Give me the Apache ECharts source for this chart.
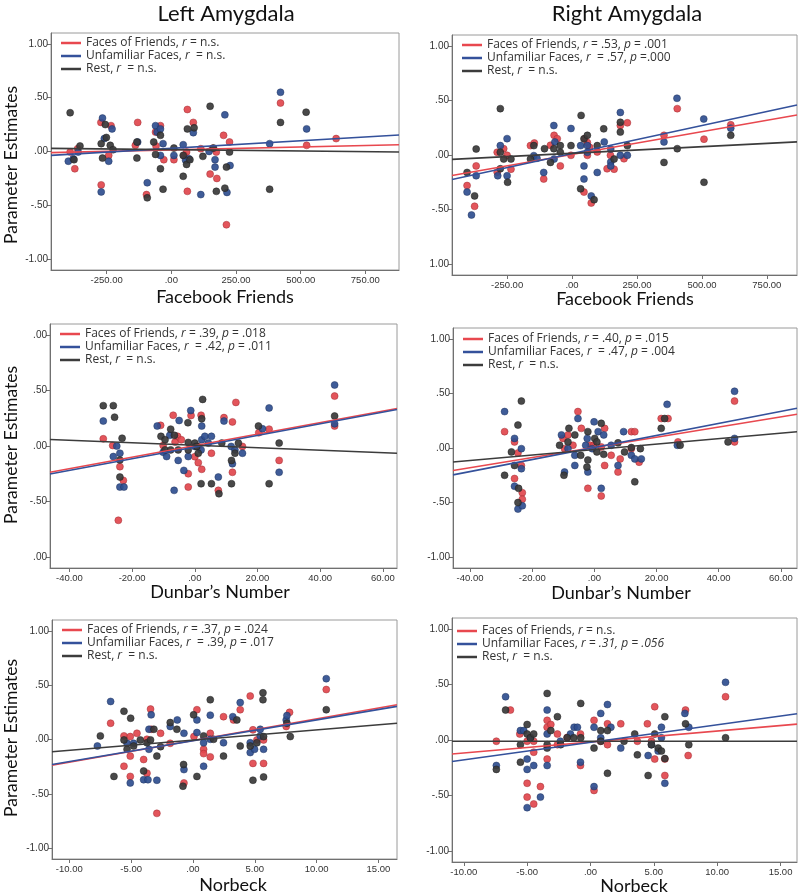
<!DOCTYPE html>
<html><head><meta charset="utf-8">
<script src="https://cdn.jsdelivr.net/npm/echarts@6/dist/echarts.min.js"></script>
<style>html,body{margin:0;padding:0;background:#fff}#c{width:800px;height:895px}</style>
</head><body><div id="c"></div><script>
// ---------- DATA ----------
// Panel 1: Left Amygdala vs Facebook Friends
const p1Friends = [[-391,-0.005],[-362,0.026],[-373,-0.16],[-272,0.27],[-271,-0.31],[-233,0.24],[-242,-0.036],[-130,0.27],[-139,0.057],[-96,-0.40],[-61,0.18],[-59,0.051],[-42,0.24],[-29,-0.076],[10,-0.076],[62,0.39],[59,-0.005],[62,-0.37],[85,0.27],[49,-0.036],[114,0.026],[150,-0.21],[176,-0.25],[174,-0.005],[202,0.15],[225,0.088],[213,-0.68],[422,0.45],[523,0.057],[637,0.12],[160,0.03]];
const p1Unfamiliar = [[-398,-0.09],[-379,-0.067],[-360,-0.005],[-266,0.31],[-259,0.12],[-229,0.21],[-242,-0.09],[-271,-0.375],[-130,0.088],[-93,-0.29],[-61,0.24],[-55,0.18],[-42,0.21],[-42,-0.036],[-32,0.073],[10,-0.036],[46,0.063],[68,-0.067],[85,0.175],[114,-0.40],[146,0.001],[169,-0.076],[169,-0.145],[207,0.34],[215,-0.38],[227,-0.13],[380,0.073],[422,0.55],[523,0.21],[55,-0.08]];
const p1Rest = [[-391,0.36],[-376,-0.076],[-353,0.051],[-271,0.073],[-266,-0.061],[-255,0.25],[-251,0.13],[-236,0.057],[-225,0.017],[-133,-0.061],[-133,0.088],[-93,-0.43],[-68,0.088],[-61,-0.027],[-42,0.15],[-42,-0.16],[-32,-0.35],[10,0.032],[46,-0.23],[46,-0.036],[62,0.21],[59,-0.12],[72,-0.076],[88,0.22],[122,-0.045],[150,0.42],[163,0.032],[174,-0.37],[207,-0.34],[213,-0.145],[225,-0.005],[380,-0.35],[422,0.27],[521,0.365]];
// Panel 2: Right Amygdala vs Facebook Friends
const p2Friends = [[-404,-0.28],[-369,-0.10],[-375,-0.47],[-288,0.025],[-288,-0.157],[-263,0.058],[-250,-0.003],[-235,-0.13],[-160,0.086],[-145,0.11],[-109,-0.22],[-83,0.089],[-69,0.18],[-57,0.15],[-45,-0.10],[-4,-0.003],[46,-0.34],[49,0.15],[59,0.114],[59,-0.003],[74,-0.44],[97,0.028],[135,-0.126],[148,-0.003],[162,-0.13],[186,0.27],[200,-0.034],[213,0.295],[354,0.18],[405,0.425],[508,0.145],[611,0.277],[68,0.07]];
const p2Unfamiliar = [[-404,-0.34],[-387,-0.55],[-369,-0.19],[-286,-0.19],[-276,0.086],[-250,0.15],[-250,-0.19],[-147,-0.006],[-135,-0.03],[-109,-0.16],[-70,0.27],[-66,0.12],[-69,-0.037],[-4,0.243],[33,0.086],[46,-0.10],[46,-0.22],[59,0.086],[59,0.025],[74,-0.375],[97,-0.16],[124,0.12],[149,0.055],[149,-0.065],[149,-0.10],[186,0.39],[186,-0.003],[213,-0.003],[354,0.12],[404,0.52],[507,0.33],[611,0.246]];
const p2Rest = [[-404,-0.16],[-369,0.055],[-375,-0.375],[-276,0.425],[-276,0.025],[-276,-0.126],[-263,-0.037],[-248,-0.25],[-235,-0.037],[-160,-0.037],[-147,0.086],[-106,0.058],[-83,-0.068],[-70,0.058],[-45,0.086],[-45,0.025],[-4,0.086],[35,0.363],[33,-0.31],[46,0.148],[59,0.18],[85,-0.41],[97,0.086],[122,0.24],[162,-0.037],[186,0.30],[186,0.21],[213,0.086],[354,-0.068],[405,0.058],[508,-0.25],[611,0.18]];
// Panel 3: Left Amygdala vs Dunbar's Number
const p3Friends = [[-29.2,0.065],[-26.2,0.005],[-23.9,-0.186],[-22.8,-0.31],[-24.4,-0.67],[-10.9,0.186],[-10.1,0.005],[-6.9,0.277],[-6.3,0.035],[-5.5,0.087],[-4.3,0.056],[-2.1,-0.25],[-2.1,-0.37],[-1.2,0.275],[0,-0.096],[1.1,-0.15],[2.2,-0.21],[2.0,0.277],[5.3,-0.065],[7.5,-0.40],[9.3,0.256],[12.0,0.217],[12.0,-0.237],[13.1,0.393],[15.2,-0.004],[20.4,0.12],[23.7,0.152],[26.9,-0.13],[44.6,0.45],[44.6,0.18],[1.1,-0.005]];
const p3Unfamiliar = [[-29.2,0.225],[-26.0,-0.095],[-24.9,-0.001],[-23.9,-0.065],[-23.9,-0.37],[-22.6,-0.37],[-12.0,0.18],[-10.1,-0.056],[-9.0,-0.095],[-8.0,0.096],[-6.6,-0.40],[-5.3,-0.13],[-5.0,0.23],[-3.5,-0.22],[-2.1,-0.095],[-1.3,0.32],[0,-0.004],[2.0,-0.035],[2.2,0.18],[2.2,0.056],[3.2,0.087],[4.3,0.026],[5.3,0.087],[7.5,-0.28],[9.3,0.225],[11.6,-0.004],[12.0,-0.16],[12.8,-0.035],[15.2,-0.065],[21.6,0.155],[23.7,0.343],[26.9,-0.237],[44.6,0.55],[44.6,0.20]];
const p3Rest = [[-29.2,0.364],[-26.0,0.364],[-25.6,0.26],[-23.2,0.07],[-23.9,-0.126],[-23.9,-0.28],[-10.8,0.087],[-9.5,0.056],[-9.5,-0.035],[-7.7,0.152],[-7.7,-0.035],[-6.5,0.096],[-5.3,-0.035],[-2.2,0.21],[-2.1,0.032],[-2.1,-0.035],[0,0.026],[0.6,-0.004],[1.1,-0.065],[2.2,0.246],[2.0,-0.34],[2.5,0.42],[5.3,-0.34],[7.7,-0.43],[8.6,0.026],[11.7,-0.13],[11.7,-0.34],[12.8,-0.065],[13.9,0.026],[20.3,0.18],[23.7,-0.34],[26.9,0.026],[44.6,0.27]];
// Panel 4: Right Amygdala vs Dunbar's Number
const p4Friends = [[-28.9,0.15],[-25.7,0.056],[-25.7,-0.28],[-24.6,-0.046],[-23.5,-0.16],[-23.2,-0.41],[-23.2,-0.47],[-10.1,0.088],[-9.6,-0.006],[-8.5,0.12],[-6.9,0.025],[-5.3,0.334],[-4.2,0.18],[-2.1,-0.37],[-1.3,0.025],[-0.2,0.025],[2.2,-0.44],[2.2,0.01],[3.3,0.18],[3.3,-0.16],[5.4,-0.067],[7.6,-0.22],[8.3,-0.10],[11.9,0.15],[13.0,0.15],[14.4,-0.13],[21.5,0.27],[23.7,0.27],[26.9,0.056],[45.1,0.43],[45.1,0.056],[11.9,-0.006]];
const p4Unfamiliar = [[-28.9,0.334],[-25.7,0.088],[-25.7,-0.35],[-23.5,-0.006],[-23.5,-0.19],[-24.6,-0.56],[-23.2,-0.53],[-10.6,0.12],[-9.6,-0.22],[-8.5,-0.006],[-6.3,-0.067],[-6.3,-0.16],[-5.3,0.27],[-2.8,0.025],[-2.3,0.088],[-2.1,-0.22],[-0.7,-0.006],[-0.1,0.24],[1.2,0.15],[2.2,-0.37],[3.0,0.12],[5.4,0.025],[7.6,-0.16],[9.4,0.15],[11.9,-0.067],[13.0,-0.10],[15.1,-0.10],[23.4,0.40],[26.7,0.025],[45.1,0.52],[45.1,0.088]];
const p4Rest = [[-28.9,-0.25],[-26.7,-0.036],[-25.7,-0.16],[-24.6,0.21],[-23.5,0.43],[-24.4,-0.37],[-24.6,-0.50],[-11.2,0.025],[-9.8,-0.25],[-8.5,0.056],[-8.2,0.18],[-6.3,0.12],[-4.4,-0.067],[-2.1,0.15],[-2.1,-0.11],[-2.4,-0.175],[0.1,0.088],[0.8,-0.036],[0.8,0.056],[2.2,0.226],[3.0,-0.058],[7.6,0.047],[9.7,-0.036],[11.9,0.004],[13.0,-0.31],[14.8,-0.006],[21.5,0.18],[22.6,0.27],[27.6,0.025],[43.0,0.056]];
// Panel 5: Left Amygdala vs Norbeck
const p5Friends = [[-6.66,0.15],[-5.58,0.033],[-5.58,-0.246],[-5.07,0.027],[-5.07,-0.153],[-5.07,-0.34],[-4.53,0.057],[-3.99,-0.184],[-3.72,-0.31],[-3.72,0.002],[-3.43,0.28],[-3.38,0.094],[-2.62,0.057],[-2.92,-0.68],[-1.84,-0.035],[-0.73,-0.40],[0.08,0.027],[0.32,0.274],[0.86,-0.09],[0.86,-0.13],[1.40,0.057],[1.40,-0.16],[2.47,0.21],[3.28,0.18],[3.82,0.274],[4.63,0.40],[4.85,0.089],[4.85,-0.22],[5.17,-0.004],[5.71,-0.22],[5.71,-0.004],[7.54,0.12],[7.81,0.25],[10.78,0.46]];
const p5Unfamiliar = [[-7.73,-0.06],[-6.66,0.35],[-5.33,-0.035],[-5.07,-0.40],[-4.80,-0.035],[-3.99,-0.37],[-3.64,-0.37],[-3.56,0.094],[-3.38,0.227],[-3.56,-0.09],[-2.92,-0.375],[-1.84,0.12],[-1.27,0.18],[-0.73,0.057],[-0.73,-0.277],[0.32,0.18],[0.32,0.064],[0.86,-0.03],[0.86,-0.246],[1.40,0.224],[1.40,0.002],[2.47,-0.03],[3.22,0.21],[3.82,0.34],[4.63,-0.03],[4.63,-0.12],[4.98,-0.09],[5.44,0.094],[5.44,0.033],[5.71,-0.09],[7.54,0.18],[7.6,0.22],[10.78,0.56]];
const p5Rest = [[-7.49,0.033],[-6.39,-0.34],[-5.58,0.26],[-5.58,-0.004],[-5.33,-0.09],[-5.04,0.196],[-4.80,-0.06],[-4.26,-0.004],[-3.99,-0.29],[-3.72,-0.03],[-3.43,-0.004],[-3.16,0.094],[-2.92,-0.153],[-2.62,-0.066],[-1.84,0.156],[-1.30,0.094],[-0.76,-0.23],[-0.81,-0.43],[0.05,0.227],[0.32,-0.34],[0.86,0.033],[1.40,0.366],[1.67,0.002],[2.47,-0.153],[3.55,0.18],[3.82,-0.06],[4.63,-0.06],[4.85,-0.375],[5.17,-0.03],[5.66,0.43],[5.66,0.366],[5.71,0.027],[5.71,-0.345],[7.6,0.15],[7.87,0.027],[10.78,0.274]];
// Panel 6: Right Amygdala vs Norbeck
const p6Friends = [[-7.43,-0.011],[-6.32,0.27],[-5.58,0.054],[-5.00,-0.011],[-5.00,-0.39],[-5.00,-0.515],[-4.48,-0.011],[-4.48,-0.11],[-4.48,-0.577],[-3.95,-0.42],[-3.42,0.177],[-3.42,0.115],[-3.42,-0.172],[-3.13,0.14],[-2.61,0.054],[-2.61,-0.042],[-1.84,0.023],[-0.79,0.054],[-0.79,-0.23],[0.28,0.177],[0.28,-0.455],[0.81,-0.011],[1.34,0.146],[1.34,-0.042],[2.39,0.146],[3.70,-0.011],[4.49,0.146],[4.81,-0.011],[5.07,0.30],[5.07,-0.172],[5.87,-0.32],[5.87,-0.172],[7.50,0.27],[7.71,-0.14],[10.66,0.39]];
const p6Unfamiliar = [[-7.43,-0.23],[-6.70,0.39],[-5.53,0.085],[-5.27,0.085],[-5.00,-0.172],[-5.00,-0.265],[-5.00,-0.61],[-4.74,0.02],[-4.48,-0.23],[-3.95,-0.515],[-3.42,0.27],[-3.42,0.054],[-3.42,-0.23],[-2.38,-0.011],[-1.58,0.054],[-1.29,0.115],[-1.03,0.115],[-0.79,-0.20],[0.28,0.115],[0.28,-0.42],[0.81,0.24],[0.81,0.02],[1.34,0.32],[1.61,0.115],[2.39,-0.073],[4.55,-0.14],[4.81,-0.042],[5.34,-0.10],[5.60,0.115],[5.60,0.02],[5.87,-0.39],[7.45,0.24],[7.76,0.115],[10.66,0.52]];
const p6Rest = [[-7.43,-0.265],[-6.70,0.27],[-5.53,-0.20],[-5.53,-0.042],[-5.00,0.14],[-5.00,0.054],[-4.74,0.02],[-4.48,0.054],[-3.42,0.42],[-3.42,-0.073],[-3.42,-0.042],[-3.13,0.085],[-2.61,0.21],[-2.35,-0.042],[-1.84,0.02],[-1.32,0.02],[-0.77,0.33],[-0.77,0.02],[0.28,-0.073],[0.81,0.085],[0.81,-0.011],[1.34,0.085],[1.34,-0.30],[2.65,-0.011],[3.49,0.054],[3.70,-0.134],[4.55,-0.32],[4.81,-0.042],[5.07,0.054],[5.34,-0.073],[5.60,-0.10],[5.87,0.21],[5.87,-0.167],[7.50,0.146],[7.76,-0.042],[10.66,0.02]];

// regression fits: [intercept, slope] for Friends, Unfamiliar, Rest
const fitP1 = [[0.0152, 5.43e-5], [0.0293, 1.405e-4], [0.0172, -2.53e-5]];
const fitP2 = [[0.0048, 4.17e-4], [0.0126, 5.14e-4], [0.0157, 1.205e-4]];
const fitP3 = [[0.003, 0.005194], [-0.0095, 0.005248], [0.0073, -0.00112]];
const fitP4 = [[0.0057, 0.004652], [0.005, 0.00552], [-0.0147, 0.002511]];
const fitP5 = [[-0.0094, 0.01996], [-0.0114, 0.01918], [-0.0055, 0.00943]];
const fitP6 = [[-0.018, 0.00989], [-0.0213, 0.0158], [-0.011, 0]];

// legend labels
const legendP1 = ['Faces of Friends, r = n.s.', 'Unfamiliar Faces, r  = n.s.', 'Rest, r  = n.s.'];
const legendP2 = ['Faces of Friends, r = .53, p = .001', 'Unfamiliar Faces, r  = .57, p =.000', 'Rest, r  = n.s.'];
const legendP3 = ['Faces of Friends, r = .39, p = .018', 'Unfamiliar Faces, r  = .42, p = .011', 'Rest, r  = n.s.'];
const legendP4 = ['Faces of Friends, r = .40, p = .015', 'Unfamiliar Faces, r  = .47, p = .004', 'Rest, r  = n.s.'];
const legendP5 = ['Faces of Friends, r = .37, p = .024', 'Unfamiliar Faces, r  = .39, p = .017', 'Rest, r  = n.s.'];
const legendP6 = ['Faces of Friends, r = n.s.', 'Unfamiliar Faces, r = .31, p = .056', 'Rest, r  = n.s.'];

// tick values / labels
const yTickValues = [-1, -0.5, 0, 0.5, 1];
const yTickLabelsStd = ['-1.00', '-.50', '.00', '.50', '1.00'];
const yTickLabelsP2 = ['1.00', '-.50', '.00', '.50', '1.00'];
const yTickLabelsP3 = ['.00', '-.50', '.00', '.50', '.00'];
const xTicksFacebook = [-250, 0, 250, 500, 750];
const xTicksDunbar = [-40, -20, 0, 20, 40, 60];
const xTicksNorbeck = [-10, -5, 0, 5, 10, 15];

const columnTitles = ['Left Amygdala', 'Right Amygdala'];
const xAxisTitles = ['Facebook Friends', 'Dunbar\u2019s Number', 'Norbeck'];
const yAxisTitle = 'Parameter Estimates';

// ---------- LAYOUT ----------
const panels = [
  {grid:{left:51, top:33, width:348, height:237}, xr:[-465, 880], xt:xTicksFacebook, yl:yTickLabelsStd, d:[p1Friends,p1Unfamiliar,p1Rest], fit:fitP1, lg:legendP1, lgPos:[61, 36.5]},
  {grid:{left:452, top:35, width:345, height:240}, xr:[-462, 866], xt:xTicksFacebook, yl:yTickLabelsP2, d:[p2Friends,p2Unfamiliar,p2Rest], fit:fitP2, lg:legendP2, lgPos:[462, 38.5]},
  {grid:{left:50, top:324, width:347, height:244}, xr:[-46.2, 64.5], xt:xTicksDunbar, yl:yTickLabelsP3, d:[p3Friends,p3Unfamiliar,p3Rest], fit:fitP3, lg:legendP3, lgPos:[60, 327.5]},
  {grid:{left:453, top:328, width:344, height:240}, xr:[-45.5, 65.2], xt:xTicksDunbar, yl:yTickLabelsStd, d:[p4Friends,p4Unfamiliar,p4Rest], fit:fitP4, lg:legendP4, lgPos:[463, 332.5]},
  {grid:{left:52, top:620, width:345, height:239}, xr:[-11.4, 16.5], xt:xTicksNorbeck, yl:yTickLabelsStd, d:[p5Friends,p5Unfamiliar,p5Rest], fit:fitP5, lg:legendP5, lgPos:[62, 623.5]},
  {grid:{left:452, top:618, width:345, height:244}, xr:[-10.93, 16.3], xt:xTicksNorbeck, yl:yTickLabelsStd, d:[p6Friends,p6Unfamiliar,p6Rest], fit:fitP6, lg:legendP6, lgPos:[457, 624.5]}
];
const ptColors = ['#e1474d', '#2f4e8f', '#3a3a3a'];
const ptBorders = ['#9e2a2f', '#1c2f5c', '#1a1a1a'];
const lineColors = ['#e8484f', '#34519b', '#3c3c3c'];
const FONT = 'Lato';
const LEGFONT = 'Open Sans';
const TICKFONT = 'Liberation Sans';

function numFmt(v) {
  let s = Math.abs(v).toFixed(2);
  if (s.charAt(0) === '0') s = s.slice(1);
  return (v < 0 ? '-' : '') + s;
}
function legendFmt(name) {
  if (name.indexOf('.056') >= 0) return name.replace(/r = .*$/, m => '{i|' + m + '}');
  return name.replace(' r ', ' {i|r} ').replace(' p ', ' {i|p} ');
}

const grids = [], xAxes = [], yAxes = [], series = [], legends = [];
panels.forEach((p, i) => {
  grids.push(Object.assign({show:true, borderColor:'#9a9a9a', borderWidth:1, backgroundColor:'transparent', containLabel:false}, p.grid));
  xAxes.push({type:'value', gridIndex:i, min:p.xr[0], max:p.xr[1],
    axisLine:{show:true, onZero:false, lineStyle:{color:'#707070', width:1}},
    axisTick:{show:true, customValues:p.xt, length:4, lineStyle:{color:'#707070'}},
    axisLabel:{customValues:p.xt, formatter:numFmt, fontSize:9.5, color:'#333', fontFamily:TICKFONT, margin:5},
    splitLine:{show:false}});
  const labels = p.yl;
  yAxes.push({type:'value', gridIndex:i, min:-1.1, max:1.1,
    axisLine:{show:true, onZero:false, lineStyle:{color:'#707070', width:1}},
    axisTick:{show:true, customValues:yTickValues, length:4, lineStyle:{color:'#707070'}},
    axisLabel:{customValues:yTickValues, formatter:v => labels[Math.round(v*2)+2], fontSize:10, color:'#333', fontFamily:TICKFONT, margin:3},
    splitLine:{show:false}});
  for (let k = 0; k < 3; k++) {
    series.push({type:'scatter', name:'pts'+i+'_'+k, xAxisIndex:i, yAxisIndex:i, data:p.d[k], symbolSize:7, z:3,
      itemStyle:{color:ptColors[k], borderColor:ptBorders[k], borderWidth:0.5, opacity:0.92}});
  }
  for (let k = 0; k < 3; k++) {
    const b = p.fit[k][0], m = p.fit[k][1];
    series.push({type:'line', name:p.lg[k], xAxisIndex:i, yAxisIndex:i, symbol:'none', silent:true, z:4,
      data:[[p.xr[0], b + m*p.xr[0]], [p.xr[1], b + m*p.xr[1]]],
      itemStyle:{color:lineColors[k]}, lineStyle:{color:lineColors[k], width:1.6}});
  }
  legends.push({data:p.lg, left:p.lgPos[0], top:p.lgPos[1], orient:'vertical', icon:'rect', itemWidth:20, itemHeight:2.5, itemGap:0, padding:0,
    selectedMode:false, formatter:legendFmt,
    textStyle:{fontFamily:LEGFONT, fontSize:12, color:'#333', lineHeight:13,
      rich:{i:{fontStyle:'italic', fontFamily:LEGFONT, fontSize:12, color:'#333', lineHeight:13}}}});
});

const txt = (t, x, y, size, rot) => ({type:'text', x:x, y:y, rotation:rot||0, silent:true,
  style:{text:t, fontFamily:FONT, fontSize:size, fill:'#111', align:'center', verticalAlign:'middle'}});
const graphic = [
  txt(columnTitles[0], 226, 14, 22), txt(columnTitles[1], 627, 14, 22),
  txt(xAxisTitles[0], 225, 297, 18), txt(xAxisTitles[0], 625, 299, 18),
  txt(xAxisTitles[1], 220, 592, 18), txt(xAxisTitles[1], 621, 593, 18),
  txt(xAxisTitles[2], 233, 885, 18), txt(xAxisTitles[2], 634, 886, 18),
  txt(yAxisTitle, 11, 165, 17.5, Math.PI/2), txt(yAxisTitle, 11, 445, 17.5, Math.PI/2), txt(yAxisTitle, 11, 738, 17.5, Math.PI/2)
];

const chart = echarts.init(document.getElementById('c'), null, {renderer:'canvas'});
chart.setOption({animation:false, backgroundColor:'#fff', grid:grids, xAxis:xAxes, yAxis:yAxes, series:series, legend:legends, graphic:graphic});
</script></body></html>
